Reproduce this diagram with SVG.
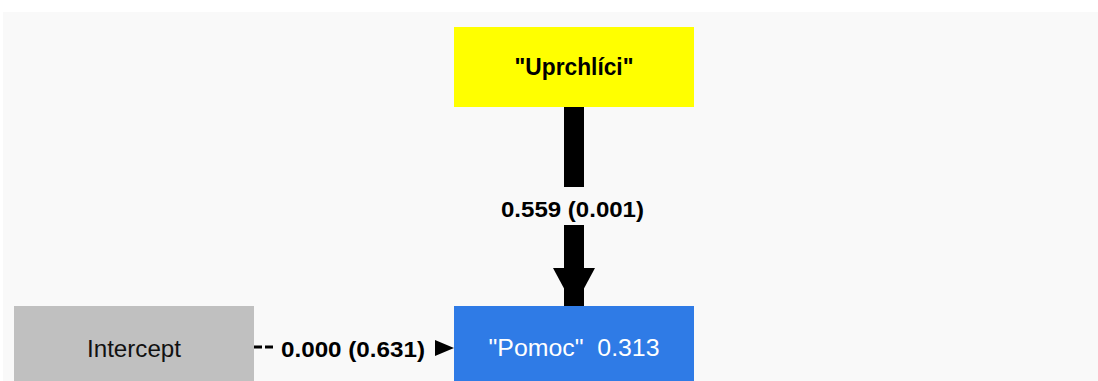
<svg xmlns="http://www.w3.org/2000/svg" width="1098" height="381" viewBox="0 0 1098 381">
<style>
text{font-family:"Liberation Sans",Arial,sans-serif;text-anchor:middle;dominant-baseline:central}
.b{font-weight:bold}
.lbl{font-weight:bold;font-size:22px;fill:#000}
</style>
<rect x="0" y="0" width="1098" height="381" fill="#ffffff"/>
<rect x="3" y="12" width="1095" height="369" fill="#f9f9f9"/>
<g id="connectors">
<rect x="564" y="107" width="20" height="80" fill="#000"/>
<rect x="564" y="225" width="20" height="82" fill="#000"/>
<polygon points="553,268 595,268 574,307" fill="#000"/>
<text class="lbl" x="572.5" y="209" textLength="143" lengthAdjust="spacingAndGlyphs">0.559 (0.001)</text>
<path d="M254,347 H275" stroke="#000" stroke-width="3" stroke-dasharray="8,3"/>
<polygon points="435,340 454,348 435,356" fill="#000"/>
<text class="lbl" x="353" y="349" textLength="144" lengthAdjust="spacingAndGlyphs">0.000 (0.631)</text>
</g>
<g id="uprchlici">
<rect x="454" y="27" width="240" height="80" fill="#ffff00"/>
<text class="b" x="574" y="67" font-size="23" textLength="119" lengthAdjust="spacingAndGlyphs">"Uprchlíci"</text>
</g>
<g id="intercept">
<rect x="14" y="306" width="240" height="80" fill="#c0c0c0"/>
<text x="134" y="348" font-size="24" fill="#111" textLength="94" lengthAdjust="spacingAndGlyphs">Intercept</text>
</g>
<g id="pomoc">
<rect x="454" y="306" width="240" height="80" fill="#2f7be6"/>
<text x="574" y="348" font-size="23" fill="#ffffff" textLength="171" lengthAdjust="spacingAndGlyphs" xml:space="preserve">"Pomoc"  0.313</text>
</g>
</svg>
